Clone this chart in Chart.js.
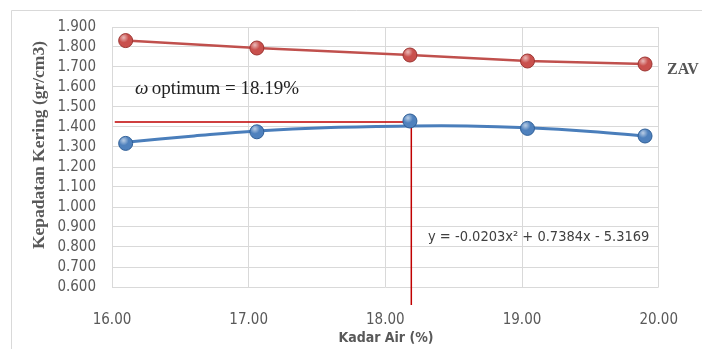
<!DOCTYPE html>
<html>
<head>
<meta charset="utf-8">
<script src="https://cdn.jsdelivr.net/npm/chart.js@4/dist/chart.umd.min.js"></script>
<style>
  html, body { margin: 0; padding: 0; background: #fff; }
  #wrap { width: 702px; height: 349px; position: relative; }
</style>
</head>
<body>
<div id="wrap"><canvas id="c" width="702" height="349"></canvas></div>
<script>
// measured points (kadar air %, kepadatan kering)
const waterContent = [16.10, 17.06, 18.18, 19.04, 19.90];
const zavDensity = [1.832, 1.795, 1.760, 1.730, 1.715];
const dryDensity = [1.318, 1.376, 1.430, 1.393, 1.355];

// trendline as it appears in the picture
const trendX = [16.10, 16.60, 17.06, 17.60, 18.19, 18.60, 19.04, 19.50, 19.90];
const trendY = [1.324, 1.355, 1.380, 1.397, 1.405, 1.405, 1.396, 1.378, 1.355];

// optimum marker lines
const optX = [16.02, 18.19, 18.19];
const optY = [1.425, 1.425, 0.51];

const yTicks = [0.6, 0.7, 0.8, 0.9, 1.0, 1.1, 1.2, 1.3, 1.4, 1.5, 1.6, 1.7, 1.8, 1.9];
const xTicks = [16, 17, 18, 19, 20];

const TXT = "#595959";
const NARROW = "'Liberation Sans Narrow', 'DejaVu Sans Condensed', sans-serif";
const SERIF = "'Liberation Serif', 'DejaVu Serif', serif";

const pts = (xs, ys) => xs.map((x, i) => ({ x: x, y: ys[i] }));

const extras = {
  id: "extras",
  beforeDraw(chart) {
    const c = chart.ctx;
    c.save();
    c.fillStyle = "#fff";
    c.fillRect(0, 0, chart.width, chart.height);
    c.strokeStyle = "#d9d9d9";
    c.lineWidth = 1;
    c.beginPath();
    c.moveTo(11.5, 349);
    c.lineTo(11.5, 10.5);
    c.lineTo(702, 10.5);
    c.stroke();
    c.restore();
  },
  afterDatasetsDraw(chart) {
    // glossy highlight on the round markers
    const c = chart.ctx;
    [2, 3].forEach((di) => {
      chart.getDatasetMeta(di).data.forEach((p) => {
        const g = c.createRadialGradient(p.x - 2, p.y - 3, 0.5, p.x - 2, p.y - 3, 5);
        g.addColorStop(0, "rgba(255,255,255,0.55)");
        g.addColorStop(1, "rgba(255,255,255,0)");
        c.save();
        c.beginPath();
        c.arc(p.x, p.y, 6.5, 0, Math.PI * 2);
        c.fillStyle = g;
        c.fill();
        c.restore();
      });
    });
  },
  afterDraw(chart) {
    const c = chart.ctx;
    c.save();
    // y axis title
    c.translate(39, 145);
    c.rotate(-Math.PI / 2);
    c.fillStyle = TXT;
    c.font = "bold 17.5px " + SERIF;
    c.textAlign = "center";
    c.textBaseline = "middle";
    c.fillText("Kepadatan Kering (gr/cm3)", 0, 0);
    c.restore();

    c.save();
    c.fillStyle = TXT;
    c.font = "bold 14px " + NARROW;
    c.textAlign = "center";
    c.textBaseline = "middle";
    c.fillText("Kadar Air (%)", 386, 338);

    c.fillStyle = "#555";
    c.font = "bold 16px " + SERIF;
    c.textAlign = "left";
    c.fillText("ZAV", 667, 70);

    c.fillStyle = "#222";
    c.font = "italic 19px " + SERIF;
    c.fillText("\u03c9", 135, 89);
    c.font = "19px " + SERIF;
    c.fillText(" optimum = 18.19%", 147, 89);

    c.fillStyle = "#404040";
    c.font = "14.5px " + NARROW;
    c.fillText("y = -0.0203x\u00b2 + 0.7384x - 5.3169", 428, 237);
    c.restore();
  }
};

new Chart(document.getElementById("c"), {
  type: "scatter",
  data: {
    datasets: [
      {
        label: "opt",
        data: pts(optX, optY),
        showLine: true,
        borderColor: "#c00000",
        borderWidth: 1.5,
        pointRadius: 0,
        clip: false,
        order: 3
      },
      {
        label: "trend",
        data: pts(trendX, trendY),
        showLine: true,
        borderColor: "#4a7ebb",
        borderWidth: 3,
        pointRadius: 0,
        tension: 0.4,
        order: 2
      },
      {
        label: "ZAV",
        data: pts(waterContent, zavDensity),
        showLine: true,
        borderColor: "#c0504d",
        borderWidth: 2.5,
        pointRadius: 7,
        pointBackgroundColor: "#c9504d",
        pointBorderColor: "#9c3532",
        pointBorderWidth: 1,
        order: 1
      },
      {
        label: "data",
        data: pts(waterContent, dryDensity),
        showLine: false,
        pointRadius: 7,
        pointBackgroundColor: "#4f81bd",
        pointBorderColor: "#2f5f97",
        pointBorderWidth: 1,
        order: 0
      }
    ]
  },
  options: {
    responsive: false,
    animation: false,
    events: [],
    layout: { padding: { top: 27, right: 40, left: 0, bottom: 0 } },
    plugins: { legend: { display: false }, tooltip: { enabled: false } },
    scales: {
      x: {
        type: "linear",
        min: 16,
        max: 20,
        afterBuildTicks: (s) => { s.ticks = xTicks.map((v) => ({ value: v })); },
        afterFit: (s) => { s.height = 62; },
        ticks: {
          color: TXT,
          font: { family: NARROW, size: 15 },
          padding: 24,
          autoSkip: false,
          maxRotation: 0,
          callback: (v) => v.toFixed(2)
        },
        grid: { color: "#d9d9d9", lineWidth: 1, drawTicks: false },
        border: { display: false }
      },
      y: {
        min: 0.6,
        max: 1.9,
        afterBuildTicks: (s) => { s.ticks = yTicks.map((v) => ({ value: v })); },
        afterFit: (s) => { s.width = 112; },
        ticks: {
          color: TXT,
          font: { family: NARROW, size: 15 },
          padding: 16,
          autoSkip: false,
          callback: (v) => v.toFixed(3)
        },
        grid: { color: "#d9d9d9", lineWidth: 1, drawTicks: false },
        border: { display: false }
      }
    }
  },
  plugins: [extras]
});
</script>
</body>
</html>
